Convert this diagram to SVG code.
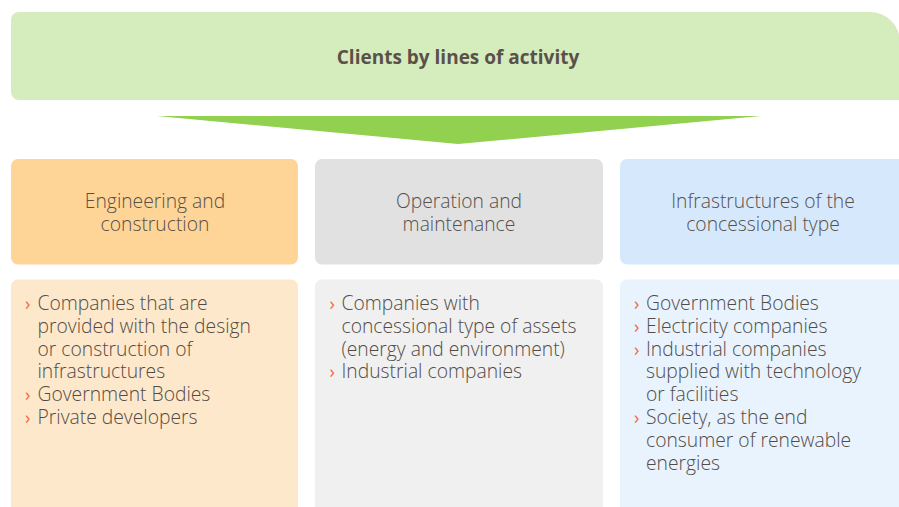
<svg xmlns="http://www.w3.org/2000/svg" width="899" height="507" viewBox="0 0 899 507">
  <style>
    text { font-family: "Open Sans", "Noto Sans", "Liberation Sans", sans-serif; }
    .title { font-size: 19px; font-weight: bold; fill: #5a514b; text-anchor: middle; }
    .head { font-size: 19.3px; font-weight: 300; fill: #57504b; text-anchor: middle; }
    .item { font-size: 19.3px; font-weight: 300; fill: #534c46; }
    .mark { font-size: 18px; fill: #f06a3c; }
  </style>

  <!-- banner -->
  <g id="banner">
    <path d="M19 12 H870 A30 30 0 0 1 900 42 V100 H19 A8 8 0 0 1 11 92 V20 A8 8 0 0 1 19 12 Z" fill="#d5ecbc"/>
    <text class="title" x="458" y="63.5">Clients by lines of activity</text>
  </g>

  <!-- downward pointer -->
  <g id="connectors">
    <polygon points="157,116 761,116 458,144" fill="#92d050"/>
  </g>

  <!-- column 1 -->
  <g id="engineering">
    <rect x="11" y="159" width="287" height="105.5" rx="7" fill="#fed597"/>
    <text class="head" x="155" y="207.5">Engineering and</text>
    <text class="head" x="155" y="230.5">construction</text>
  </g>
  <g id="engineering-clients">
    <rect x="11" y="279.5" width="287" height="240" rx="7" fill="#fee8cb"/>
    <text class="mark" x="25" y="310">›</text>
    <text class="item" x="37.5" y="310">Companies that are</text>
    <text class="item" x="37.5" y="332.8">provided with the design</text>
    <text class="item" x="37.5" y="355.6">or construction of</text>
    <text class="item" x="37.5" y="378.4">infrastructures</text>
    <text class="mark" x="25" y="401.2">›</text>
    <text class="item" x="37.5" y="401.2">Government Bodies</text>
    <text class="mark" x="25" y="424">›</text>
    <text class="item" x="37.5" y="424">Private developers</text>
  </g>

  <!-- column 2 -->
  <g id="operation">
    <rect x="315" y="159" width="288" height="105.5" rx="7" fill="#e1e1e1"/>
    <text class="head" x="459" y="207.5">Operation and</text>
    <text class="head" x="459" y="230.5">maintenance</text>
  </g>
  <g id="operation-clients">
    <rect x="315" y="279.5" width="288" height="240" rx="7" fill="#f0f0f0"/>
    <text class="mark" x="329.5" y="310">›</text>
    <text class="item" x="341.5" y="310">Companies with</text>
    <text class="item" x="341.5" y="332.8">concessional type of assets</text>
    <text class="item" x="341.5" y="355.6">(energy and environment)</text>
    <text class="mark" x="329.5" y="378.4">›</text>
    <text class="item" x="341.5" y="378.4">Industrial companies</text>
  </g>

  <!-- column 3 -->
  <g id="concessions">
    <rect x="620" y="159" width="300" height="105.5" rx="7" fill="#d6e9fc"/>
    <text class="head" x="763" y="208">Infrastructures of the</text>
    <text class="head" x="763" y="231">concessional type</text>
  </g>
  <g id="concessions-clients">
    <rect x="620" y="279.5" width="300" height="240" rx="7" fill="#e8f3fe"/>
    <text class="mark" x="634" y="310">›</text>
    <text class="item" x="646" y="310">Government Bodies</text>
    <text class="mark" x="634" y="332.8">›</text>
    <text class="item" x="646" y="332.8">Electricity companies</text>
    <text class="mark" x="634" y="355.6">›</text>
    <text class="item" x="646" y="355.6">Industrial companies</text>
    <text class="item" x="646" y="378.4">supplied with technology</text>
    <text class="item" x="646" y="401.2">or facilities</text>
    <text class="mark" x="634" y="424">›</text>
    <text class="item" x="646" y="424">Society, as the end</text>
    <text class="item" x="646" y="446.8">consumer of renewable</text>
    <text class="item" x="646" y="469.6">energies</text>
  </g>
</svg>
